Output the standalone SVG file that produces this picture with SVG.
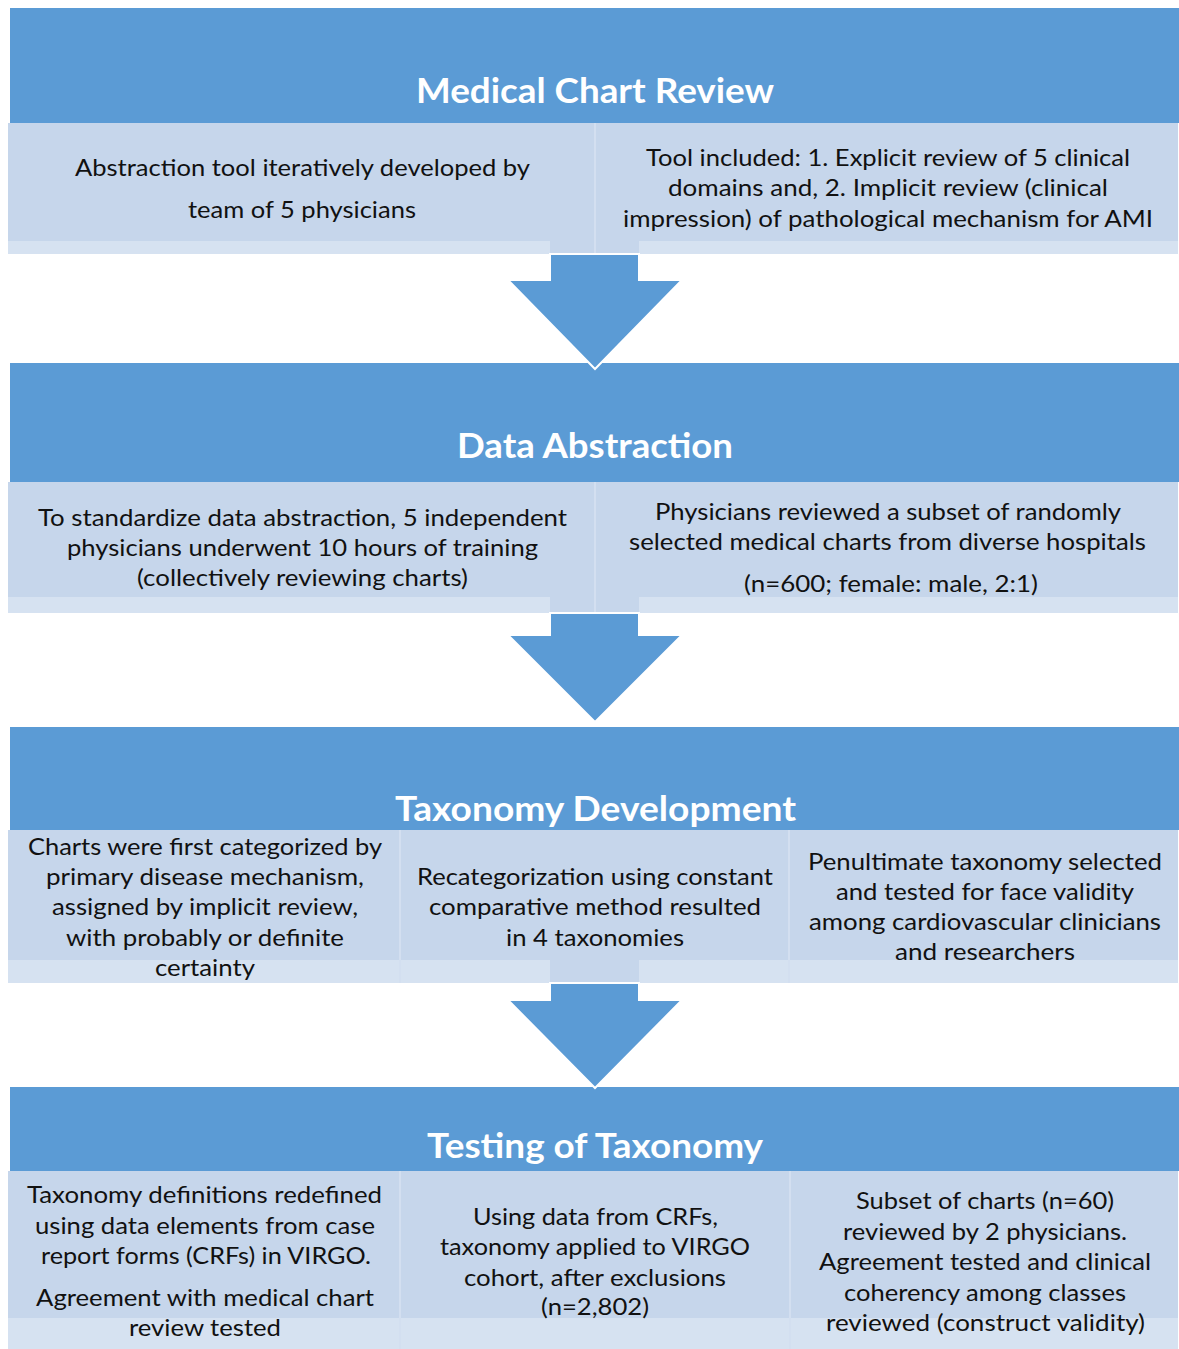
<svg xmlns="http://www.w3.org/2000/svg" width="1179" height="1349" viewBox="0 0 1179 1349">
  <style>
    .hdr { fill: #5b9bd5; }
    .cell { fill: #c6d6eb; }
    .strip { fill: #d6e2f1; }
    .div { fill: #d3dff0; }
    .arrow { fill: #5b9bd5; stroke: #ffffff; stroke-width: 2; stroke-linejoin: miter; }
    .title { font-family: Lato, "Open Sans", sans-serif; font-weight: bold; font-size: 35px; fill: #ffffff; }
    .body { font-family: Lato, "Open Sans", sans-serif; font-size: 24px; fill: #111111; }
  </style>
  <rect width="1179" height="1349" fill="#ffffff"/>

  <!-- Stage 1: Medical Chart Review -->
  <g id="stage-medical-chart-review">
    <rect class="hdr" x="10" y="8" width="1169" height="115"/>
    <rect class="cell" x="8" y="123" width="1170" height="131"/>
    <rect class="strip" x="8" y="241" width="542" height="13"/>
    <rect class="strip" x="639" y="241" width="539" height="13"/>
    <rect class="div" x="594" y="123" width="2" height="131"/>
    <text class="title" x="416" y="103" textLength="358" lengthAdjust="spacingAndGlyphs">Medical Chart Review</text>
    <text class="body" x="75" y="176" textLength="455" lengthAdjust="spacingAndGlyphs">Abstraction tool iteratively developed by</text>
    <text class="body" x="188" y="218" textLength="228" lengthAdjust="spacingAndGlyphs">team of 5 physicians</text>
    <text class="body" x="646" y="166" textLength="484" lengthAdjust="spacingAndGlyphs">Tool included: 1. Explicit review of 5 clinical</text>
    <text class="body" x="668" y="196" textLength="440" lengthAdjust="spacingAndGlyphs">domains and, 2. Implicit review (clinical</text>
    <text class="body" x="623" y="227" textLength="530" lengthAdjust="spacingAndGlyphs">impression) of pathological mechanism for AMI</text>
  </g>

  <!-- Stage 2: Data Abstraction -->
  <g id="stage-data-abstraction">
    <rect class="hdr" x="10" y="363" width="1169" height="119"/>
    <rect class="cell" x="8" y="482" width="1170" height="131"/>
    <rect class="strip" x="8" y="597" width="542" height="16"/>
    <rect class="strip" x="639" y="597" width="539" height="16"/>
    <rect class="div" x="594" y="482" width="2" height="131"/>
    <text class="title" x="457" y="458" textLength="276" lengthAdjust="spacingAndGlyphs">Data Abstraction</text>
    <text class="body" x="38" y="526" textLength="529" lengthAdjust="spacingAndGlyphs">To standardize data abstraction, 5 independent</text>
    <text class="body" x="67" y="556" textLength="471" lengthAdjust="spacingAndGlyphs">physicians underwent 10 hours of training</text>
    <text class="body" x="137" y="586" textLength="331" lengthAdjust="spacingAndGlyphs">(collectively reviewing charts)</text>
    <text class="body" x="655" y="520" textLength="466" lengthAdjust="spacingAndGlyphs">Physicians reviewed a subset of randomly</text>
    <text class="body" x="629" y="550" textLength="517" lengthAdjust="spacingAndGlyphs">selected medical charts from diverse hospitals</text>
    <text class="body" x="744" y="592" textLength="294" lengthAdjust="spacingAndGlyphs">(n=600; female: male, 2:1)</text>
  </g>

  <!-- Stage 3: Taxonomy Development -->
  <g id="stage-taxonomy-development">
    <rect class="hdr" x="10" y="727" width="1169" height="103"/>
    <rect class="cell" x="8" y="830" width="1170" height="153"/>
    <rect class="strip" x="8" y="960" width="542" height="23"/>
    <rect class="strip" x="639" y="960" width="539" height="23"/>
    <rect class="div" x="399" y="830" width="2" height="153"/>
    <rect class="div" x="788" y="830" width="2" height="153"/>
    <text class="title" x="395" y="821" textLength="401" lengthAdjust="spacingAndGlyphs">Taxonomy Development</text>
    <text class="body" x="28" y="855" textLength="354" lengthAdjust="spacingAndGlyphs">Charts were first categorized by</text>
    <text class="body" x="46" y="885" textLength="318" lengthAdjust="spacingAndGlyphs">primary disease mechanism,</text>
    <text class="body" x="52" y="915" textLength="306" lengthAdjust="spacingAndGlyphs">assigned by implicit review,</text>
    <text class="body" x="66" y="946" textLength="278" lengthAdjust="spacingAndGlyphs">with probably or definite</text>
    <text class="body" x="155" y="976" textLength="100" lengthAdjust="spacingAndGlyphs">certainty</text>
    <text class="body" x="417" y="885" textLength="356" lengthAdjust="spacingAndGlyphs">Recategorization using constant</text>
    <text class="body" x="429" y="915" textLength="332" lengthAdjust="spacingAndGlyphs">comparative method resulted</text>
    <text class="body" x="506" y="946" textLength="178" lengthAdjust="spacingAndGlyphs">in 4 taxonomies</text>
    <text class="body" x="808" y="870" textLength="354" lengthAdjust="spacingAndGlyphs">Penultimate taxonomy selected</text>
    <text class="body" x="836" y="900" textLength="298" lengthAdjust="spacingAndGlyphs">and tested for face validity</text>
    <text class="body" x="809" y="930" textLength="352" lengthAdjust="spacingAndGlyphs">among cardiovascular clinicians</text>
    <text class="body" x="895" y="960" textLength="180" lengthAdjust="spacingAndGlyphs">and researchers</text>
  </g>

  <!-- Stage 4: Testing of Taxonomy -->
  <g id="stage-testing-of-taxonomy">
    <rect class="hdr" x="10" y="1087" width="1169" height="84"/>
    <rect class="cell" x="8" y="1171" width="1170" height="178"/>
    <rect class="strip" x="8" y="1318" width="1170" height="31"/>
    <rect class="div" x="399" y="1171" width="2" height="178"/>
    <rect class="div" x="789" y="1171" width="2" height="178"/>
    <text class="title" x="427" y="1158" textLength="336" lengthAdjust="spacingAndGlyphs">Testing of Taxonomy</text>
    <text class="body" x="27" y="1203" textLength="355" lengthAdjust="spacingAndGlyphs">Taxonomy definitions redefined</text>
    <text class="body" x="35" y="1234" textLength="340" lengthAdjust="spacingAndGlyphs">using data elements from case</text>
    <text class="body" x="41" y="1264" textLength="330" lengthAdjust="spacingAndGlyphs">report forms (CRFs) in VIRGO.</text>
    <text class="body" x="36" y="1306" textLength="338" lengthAdjust="spacingAndGlyphs">Agreement with medical chart</text>
    <text class="body" x="129" y="1336" textLength="152" lengthAdjust="spacingAndGlyphs">review tested</text>
    <text class="body" x="473" y="1225" textLength="245" lengthAdjust="spacingAndGlyphs">Using data from CRFs,</text>
    <text class="body" x="440" y="1255" textLength="310" lengthAdjust="spacingAndGlyphs">taxonomy applied to VIRGO</text>
    <text class="body" x="464" y="1286" textLength="262" lengthAdjust="spacingAndGlyphs">cohort, after exclusions</text>
    <text class="body" x="541" y="1315" textLength="108" lengthAdjust="spacingAndGlyphs">(n=2,802)</text>
    <text class="body" x="856" y="1209" textLength="258" lengthAdjust="spacingAndGlyphs">Subset of charts (n=60)</text>
    <text class="body" x="843" y="1240" textLength="284" lengthAdjust="spacingAndGlyphs">reviewed by 2 physicians.</text>
    <text class="body" x="819" y="1270" textLength="332" lengthAdjust="spacingAndGlyphs">Agreement tested and clinical</text>
    <text class="body" x="844" y="1301" textLength="282" lengthAdjust="spacingAndGlyphs">coherency among classes</text>
    <text class="body" x="826" y="1331" textLength="319" lengthAdjust="spacingAndGlyphs">reviewed (construct validity)</text>
  </g>

  <!-- Block arrows between stages -->
  <g id="connectors">
    <polygon class="arrow" points="550,254 639,254 639,280 682,280 595,369 508,280 550,280"/>
    <polygon class="arrow" points="550,613 639,613 639,635 682,635 595,722 508,635 550,635"/>
    <polygon class="arrow" points="550,983 639,983 639,1000 682,1000 595,1088 508,1000 550,1000"/>
  </g>
</svg>
